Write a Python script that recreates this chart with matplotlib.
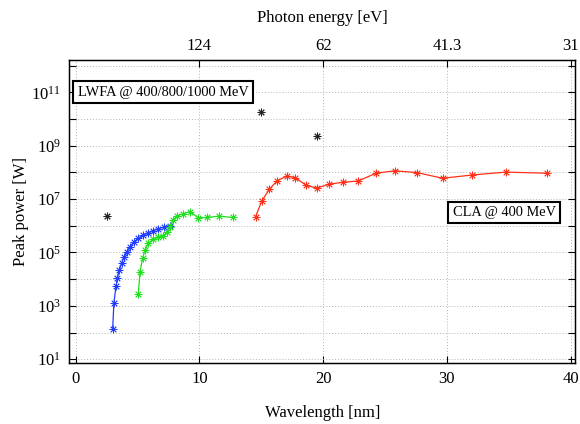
import matplotlib
matplotlib.use("Agg")
import matplotlib.pyplot as plt
import numpy as np

plt.rcParams['font.family'] = ['Liberation Serif', 'DejaVu Serif']
plt.rcParams['mathtext.fontset'] = 'custom'
plt.rcParams['mathtext.rm'] = 'Liberation Serif'
plt.rcParams['mathtext.it'] = 'Liberation Serif:italic'

# ---- data (wavelength in nm, log10 of peak power in W) ----
blue_wl = [2.99, 3.09, 3.26, 3.36, 3.53, 3.71, 3.90, 4.12, 4.39, 4.74,
           5.06, 5.46, 5.87, 6.27, 6.68, 7.14, 7.62]
blue_logp = [2.14, 3.11, 3.74, 4.03, 4.34, 4.59, 4.82, 5.03, 5.22, 5.41,
             5.53, 5.66, 5.72, 5.82, 5.89, 5.95, 6.01]

green_wl = [5.06, 5.20, 5.41, 5.60, 5.87, 6.27, 6.68, 7.08, 7.41, 7.62,
            7.89, 8.16, 8.65, 9.24, 9.91, 10.59, 11.6, 12.69]
green_logp = [3.46, 4.28, 4.78, 5.09, 5.34, 5.49, 5.59, 5.63, 5.78, 5.96,
              6.21, 6.36, 6.44, 6.53, 6.30, 6.31, 6.36, 6.31]

red_wl = [14.54, 15.03, 15.65, 16.29, 17.05, 17.75, 18.61, 19.47, 20.50,
          21.63, 22.84, 24.27, 25.80, 27.61, 29.65, 32.0, 34.75, 38.06]
red_logp = [6.34, 6.92, 7.37, 7.69, 7.86, 7.80, 7.52, 7.41, 7.56,
            7.63, 7.68, 7.97, 8.06, 7.99, 7.78, 7.90, 8.01, 7.97]

lwfa_wl = [2.5, 14.97, 19.47]
lwfa_logp = [6.38, 10.28, 9.37]

xticks = [0, 10, 20, 30, 40]
energy_ticks = [124, 62, 41.3, 31]
energy_labels = ['124', '62', '41.3', '31']
yexp = list(range(1, 13))

# ---- figure ----
fig = plt.figure(figsize=(5.8, 4.24), dpi=100)
ax = fig.add_axes([0.1198, 0.1439, 0.9914 - 0.1198, 0.8585 - 0.1439])

ast = (8, 2, 0)
ax.plot(blue_wl, 10 ** np.array(blue_logp), color='#1f3cff', lw=0.9,
        marker=ast, ms=5.5, mew=0.6)
ax.plot(green_wl, 10 ** np.array(green_logp), color='#1ee01e', lw=0.9,
        marker=ast, ms=5.5, mew=0.6)
ax.plot(red_wl, 10 ** np.array(red_logp), color='#ff3018', lw=0.9,
        marker=ast, ms=5.5, mew=0.6)
ax.plot(lwfa_wl, 10 ** np.array(lwfa_logp), ls='none', color='#222222',
        marker=ast, ms=5.5, mew=0.7)

ax.set_yscale('log')
ax.set_xlim(-0.5, 40.35)
ax.set_ylim(10 ** 0.86, 10 ** 12.21)
ax.set_xticks(xticks)
ax.set_xticklabels([str(t) for t in xticks])
ax.set_yticks([10.0 ** e for e in yexp])
ax.set_yticklabels([r'$10^{%d}$' % e if e % 2 == 1 else '' for e in yexp])
ax.yaxis.set_minor_locator(matplotlib.ticker.NullLocator())

ax.tick_params(direction='in', length=5, width=0.8, labelsize=12,
               right=True, top=False, pad=6)
ax.grid(True, which='major', ls=(0, (1, 2)), color='#b4b4b4', lw=0.7)
for s in ax.spines.values():
    s.set_linewidth(1.0)

ax.set_xlabel('Wavelength [nm]', fontsize=12, labelpad=13)
ax.set_ylabel('Peak power [W]', fontsize=12, labelpad=2)

ax2 = ax.twiny()
ax2.set_xlim(ax.get_xlim())
ax2.set_xticks([1240.0 / e for e in energy_ticks])
ax2.set_xticklabels(energy_labels)
ax2.tick_params(direction='in', length=5, width=0.8, labelsize=12, pad=4)
ax2.set_xlabel('Photon energy [eV]', fontsize=12, labelpad=12)

ax.text(0.016, 0.894, 'LWFA @ 400/800/1000 MeV', transform=ax.transAxes,
        fontsize=10.4, ha='left', va='center',
        bbox=dict(boxstyle='square,pad=0.3', fc='white', ec='black', lw=1.5))
ax.text(0.962, 0.497, 'CLA @ 400 MeV', transform=ax.transAxes,
        fontsize=10.4, ha='right', va='center',
        bbox=dict(boxstyle='square,pad=0.3', fc='white', ec='black', lw=1.5))

fig.savefig('out.png', dpi=100)
